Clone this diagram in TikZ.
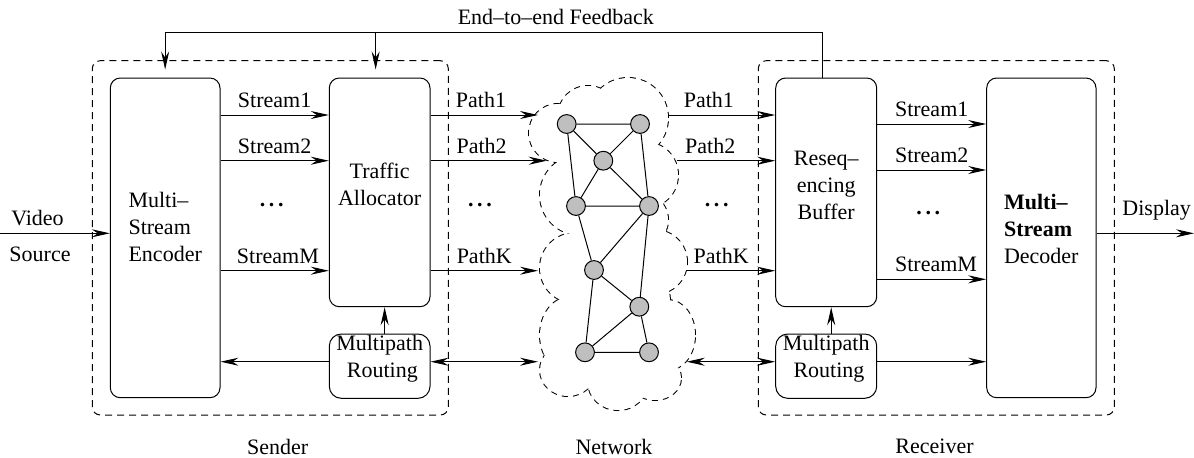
\documentclass[tikz,border=0pt]{standalone}
\usepackage{fontspec}
\setmainfont{Liberation Serif}
\usetikzlibrary{arrows.meta,fit}
\newcommand\diafont{\fontsize{11}{13.5}\selectfont}
\tikzset{
  block/.style={draw, rounded corners=5pt, line width=0.5pt, inner sep=0pt, align=left},
  group/.style={draw, rounded corners=4pt, line width=0.5pt,
    dash pattern=on 3.5pt off 2.5pt, inner sep=0pt},
  arrow/.style={-{Stealth[length=9pt,width=4pt,inset=3pt]}, line width=0.5pt},
  biarrow/.style={{Stealth[length=9pt,width=4pt,inset=3pt]}-{Stealth[length=9pt,width=4pt,inset=3pt]},
    line width=0.5pt},
  lbl/.style={above},
  dots/.style={font=\diafont\bfseries, inner sep=0pt},
  router/.style={circle, draw, fill=black!25, line width=0.5pt, minimum size=9.4pt, inner sep=0pt},
  link/.style={line width=0.5pt},
  puff/.style={line width=1pt, dash pattern=on 3pt off 2.5pt},
}

\begin{document}
\begin{tikzpicture}[x=0.5pt, y=-0.5pt, font=\diafont]
  \useasboundingbox (0,0) rectangle (1194,457);

  % Groups
  \node[group, fit={(92.3,60.7) (448.3,415)}] (sender) {};
  \node[group, fit={(758.3,60.7) (1114.3,415)}] (receiver) {};
  \node (sendtxt) at (277.7,446.7) {Sender};
  \node (nettxt) at (614,446.7) {Network};
  \node (recvtxt) at (934.5,446.7) {Receiver};

  % Blocks
  \node[block, fit={(110.3,78) (220,397.7)}] (enc) {};
  \node[align=left] (enctxt) at (165.2,227) {Multi--\\Stream\\Encoder};
  \node[block, fit={(329.3,78) (430,306.7)}] (alloc) {Traffic\\Allocator};
  \node[block, rounded corners=6pt, fit={(329.3,334) (430,398.3)}] (smp) {Multipath\\\ Routing};
  \node[block, fit={(775.7,78) (876.7,306.7)}] (reseq) {Reseq--\\encing\\Buffer};
  \node[block, rounded corners=6pt, fit={(775.7,334) (876.7,398.3)}] (rmp) {Multipath\\\ Routing};
  \node[block, fit={(986.7,78) (1096,397.7)}] (dec) {};
  \node[align=left] (dectxt) at (1041.3,229) {\textbf{Multi--}\\\textbf{Stream}\\Decoder};

  % Network cloud
  \foreach \cx/\cy/\rx/\ry in {558/133/29/29, 588/116/30/30, 628/118/40/40, 645/175/33/33,
      640/220/28/28, 655/262/32/32, 668/335/27/35, 655/378/26/22, 618/382/30/28,
      568/370/28/26, 570/335/30/38, 575/268/35/35, 580/195/40/40, 612/300/40/40,
      610/215/40/40, 615/350/35/35, 585/150/30/30, 615/168/30/30, 615/255/35/35,
      645/300/25/25}
    \draw[puff] (\cx,\cy) ellipse [x radius=0.5pt*\rx, y radius=0.5pt*\ry];
  \foreach \cx/\cy/\rx/\ry in {558/133/29/29, 588/116/30/30, 628/118/40/40, 645/175/33/33,
      640/220/28/28, 655/262/32/32, 668/335/27/35, 655/378/26/22, 618/382/30/28,
      568/370/28/26, 570/335/30/38, 575/268/35/35, 580/195/40/40, 612/300/40/40,
      610/215/40/40, 615/350/35/35, 585/150/30/30, 615/168/30/30, 615/255/35/35,
      645/300/25/25}
    \fill[white] (\cx,\cy) ellipse [x radius=0.5pt*\rx, y radius=0.5pt*\ry];

  % Routers
  \node[router] (n1) at (566.7,124) {};
  \node[router] (n2) at (640,124) {};
  \node[router] (n3) at (603.3,160.7) {};
  \node[router] (n4) at (576,206) {};
  \node[router] (n5) at (649,206) {};
  \node[router] (n6) at (594,270) {};
  \node[router] (n7) at (639.3,306.7) {};
  \node[router] (n8) at (585,352.3) {};
  \node[router] (n9) at (649,352.3) {};
  \draw[link] (n1) -- (n2) (n1) -- (n3) (n1) -- (n4) (n2) -- (n3) (n2) -- (n5)
    (n3) -- (n4) (n3) -- (n5) (n4) -- (n5) (n4) -- (n6) (n5) -- (n6) (n5) -- (n7)
    (n6) -- (n7) (n6) -- (n8) (n7) -- (n8) (n7) -- (n9) (n8) -- (n9);

  % Cloud ends of the paths
  \coordinate (cl1) at (538,115);
  \coordinate (cl2) at (546.7,160.7);
  \coordinate (clk) at (538,270.7);
  \coordinate (clr) at (538,361.7);
  \coordinate (cr1) at (668.3,115);
  \coordinate (cr2) at (676.7,160.7);
  \coordinate (crk) at (686.7,270.7);
  \coordinate (crr) at (686.7,361.7);

  % Source and display
  \node (vid) at (37.5,218) {Video};
  \node (srcl) at (40,254) {Source};
  \coordinate (src) at (0,233.3);
  \draw[arrow] (src) -- (enc.west |- src);
  \node (disp) at (1156.7,210) {Display};
  \coordinate (sink) at (1194,233.3);
  \draw[arrow] (dec.east |- sink) -- (sink);

  % Sender
  \draw[arrow] (enc.east |- 0,115) -- (alloc.west |- 0,115) node[lbl, midway] {Stream1};
  \draw[arrow] (enc.east |- 0,160.7) -- (alloc.west |- 0,160.7) node[lbl, midway] {Stream2};
  \draw[arrow] (enc.east |- 0,270.7) -- (alloc.west |- 0,270.7) node[lbl, pos=.53] {StreamM};
  \node[dots] (sdots) at (271.7,205) {.\,.\,.};
  \draw[arrow] (smp.west |- 0,361.7) -- (enc.east |- 0,361.7);
  \draw[arrow] ([xshift=2.5pt]smp.north) -- ([xshift=2.5pt]alloc.south);

  % Paths into the network
  \draw[arrow] (alloc.east |- cl1) -- (cl1) node[lbl, pos=.47] {Path1};
  \draw[arrow] (alloc.east |- cl2) -- (cl2) node[lbl, pos=.44] {Path2};
  \draw[arrow] (alloc.east |- clk) -- (clk) node[lbl, pos=.5] {PathK};
  \node[dots] (ldots) at (480,205) {.\,.\,.};
  \draw[biarrow] (smp.east |- clr) -- (clr);

  % Paths out of the network
  \draw[arrow] (cr1) -- (reseq.west |- cr1) node[lbl, pos=.38] {Path1};
  \draw[arrow] (cr2) -- (reseq.west |- cr2) node[lbl, pos=.34] {Path2};
  \draw[arrow] (crk) -- (reseq.west |- crk) node[lbl, pos=.39] {PathK};
  \node[dots] (rdots) at (716.7,205) {.\,.\,.};
  \draw[biarrow] (crr) -- (rmp.west |- crr);

  % Receiver
  \draw[arrow] (reseq.east |- 0,124) -- (dec.west |- 0,124) node[lbl, midway] {Stream1};
  \draw[arrow] (reseq.east |- 0,170) -- (dec.west |- 0,170) node[lbl, midway] {Stream2};
  \draw[arrow] (reseq.east |- 0,279.3) -- (dec.west |- 0,279.3) node[lbl, pos=.54] {StreamM};
  \node[dots] (ddots) at (928.3,213) {.\,.\,.};
  \draw[arrow] (rmp.east |- 0,361.7) -- (dec.west |- 0,361.7);
  \draw[arrow] ([xshift=2.5pt]rmp.north) -- ([xshift=2.5pt]reseq.south);

  % Feedback
  \draw[arrow, shorten >=4pt] ([xshift=-2pt]reseq.north) |- (enc.north |- 0,32.7) -- (enc.north);
  \draw[arrow, shorten >=4pt] ([xshift=-2pt]alloc.north |- 0,32.7) -- ([xshift=-2pt]alloc.north);
  \node (fbtxt) at (555.8,16.7) {End--to--end Feedback};
\end{tikzpicture}
\end{document}
